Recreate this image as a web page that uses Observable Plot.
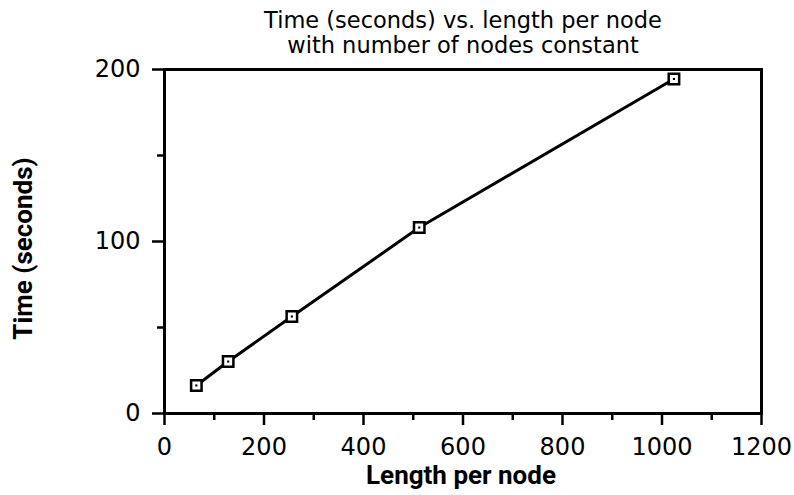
<!DOCTYPE html>
<html>
<head>
<meta charset="utf-8">
<script src="https://cdn.jsdelivr.net/npm/d3@7"></script>
<script src="https://cdn.jsdelivr.net/npm/@observablehq/plot@0.6"></script>
<style>
  html, body { margin: 0; padding: 0; background: #fff; }
</style>
</head>
<body>
<div id="chart"></div>
<script>
const lengths = [64, 128, 256, 512, 1024];
const times = [16.3, 30.2, 56.4, 108.1, 194.5];
const xMajorTicks = [0, 200, 400, 600, 800, 1000, 1200];
const xMinorTicks = [100, 300, 500, 700, 900, 1100];
const yMajorTicks = [0, 100, 200];
const yMinorTicks = [50, 150];
const titleLines = ["Time (seconds) vs. length per node", "with number of nodes constant"];
const xLabel = "Length per node";
const yLabel = "Time (seconds)";

const data = lengths.map((l, i) => ({length: l, time: times[i]}));
const fmt = d => String(d);

const chart = Plot.plot({
  width: 794,
  height: 495,
  marginLeft: 164,
  marginRight: 33,
  marginTop: 69,
  marginBottom: 82,
  style: {fontFamily: "DejaVu Sans", fontSize: "24px", color: "black", background: "white"},
  x: {domain: [0, 1200]},
  y: {domain: [0, 200]},
  marks: [
    Plot.axisX({ticks: xMajorTicks, tickSize: 12, tickPadding: 12, strokeWidth: 2.5, label: null, fontSize: 24, tickFormat: fmt}),
    Plot.axisX({ticks: xMinorTicks, tickSize: 7, strokeWidth: 2.5, tickFormat: () => "", label: null}),
    Plot.axisY({ticks: yMajorTicks, tickSize: 12, tickPadding: 12, strokeWidth: 2.5, label: null, fontSize: 24, tickFormat: fmt}),
    Plot.axisY({ticks: yMinorTicks, tickSize: 7, strokeWidth: 2.5, tickFormat: () => "", label: null}),
    Plot.frame({stroke: "black", strokeWidth: 3}),
    Plot.line(data, {x: "length", y: "time", stroke: "black", strokeWidth: 3}),
    Plot.dot(data, {x: "length", y: "time", symbol: "square", r: 5.9, fill: "white", stroke: "black", strokeWidth: 2.5}),
    Plot.dot(data, {x: "length", y: "time", symbol: "square", r: 1.2, fill: "black"}),
    Plot.text([titleLines[0]], {frameAnchor: "top", dy: -49, lineAnchor: "middle", fontSize: 22.5, fontFamily: "DejaVu Sans", fill: "black"}),
    Plot.text([titleLines[1]], {frameAnchor: "top", dy: -24, lineAnchor: "middle", fontSize: 22.5, fontFamily: "DejaVu Sans", fill: "black"}),
    Plot.text([xLabel], {frameAnchor: "bottom", dx: -2, dy: 62, lineAnchor: "middle", fontSize: 26, fontWeight: "bold", fontFamily: "Roboto", fill: "black"}),
    Plot.text([yLabel], {frameAnchor: "left", dx: -141, dy: 7, rotate: -90, textAnchor: "middle", lineAnchor: "middle", fontSize: 26, fontWeight: "bold", fontFamily: "Roboto", fill: "black"})
  ]
});
document.getElementById("chart").appendChild(chart);
</script>
</body>
</html>
